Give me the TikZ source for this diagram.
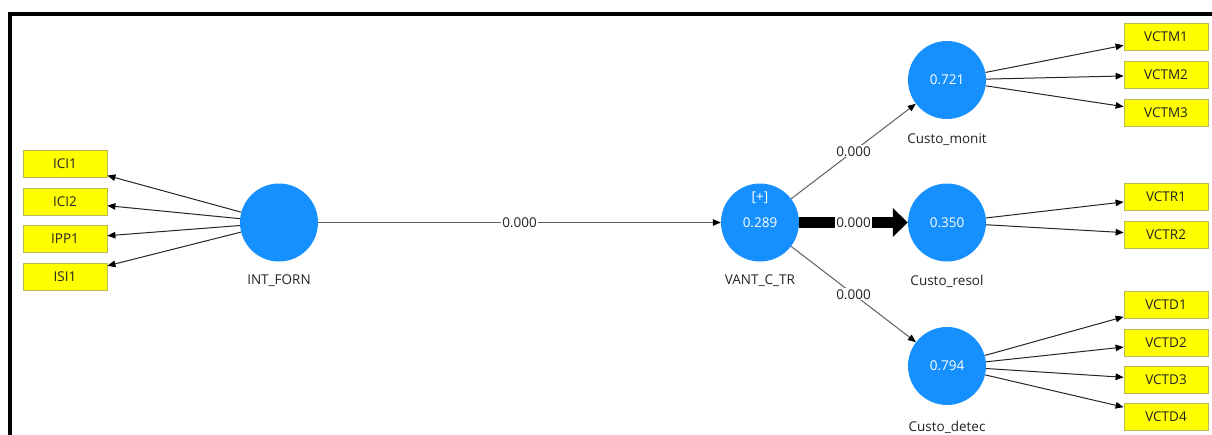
\documentclass[tikz,border=0pt]{standalone}
\usepackage{fontspec}
\setmainfont{Open Sans}
\usetikzlibrary{arrows.meta}
\definecolor{lvblue}{RGB}{22,144,255}
\definecolor{indyellow}{RGB}{255,255,0}
\definecolor{indborder}{RGB}{185,185,80}
\definecolor{pathgray}{RGB}{95,95,95}
\definecolor{txt}{RGB}{35,35,35}
\begin{document}
\begin{tikzpicture}[x=1pt,y=-1pt,
  font=\fontsize{13.5}{16}\selectfont,
  lv/.style={circle, fill=lvblue, minimum size=78pt, inner sep=0pt, text=white},
  ind/.style={rectangle, fill=indyellow, draw=indborder, line width=0.8pt,
    minimum width=84pt, minimum height=27pt, inner sep=0pt, text=txt},
  lvname/.style={text=txt, inner sep=0pt},
  loading/.style={draw=black!85, line width=1pt,
    -{Triangle[length=8pt,width=6.5pt,color=black]}},
  relpath/.style={draw=pathgray, line width=1pt,
    -{Triangle[length=8pt,width=6.5pt,color=black]}},
  strongpath/.style={draw=black, line width=11pt,
    -{Triangle[length=15pt,width=28pt]}},
  coef/.style={fill=white, inner sep=1pt, text=txt}]
\useasboundingbox (0,0) rectangle (1212,434);
\clip (0,0) rectangle (1212,434);

% outer frame
\draw[line width=3.5pt] (10,440) -- (10,14) -- (1220,14);

% latent variables
\node[lv] (forn) at (279,222.5) {};
\node[lv] (vant) at (760,222.5) {0.289};
\node[text=white, inner sep=0pt] (vantplus) at (760,198) {[+]};
\node[lv] (monit) at (947,80) {0.721};
\node[lv] (resol) at (947,222.5) {0.350};
\node[lv] (detec) at (947,366) {0.794};

\node[lvname] (fornname) at (279,281) {INT\_FORN};
\node[lvname] (vantname) at (760,281) {VANT\_C\_TR};
\node[lvname] (monitname) at (947,140) {Custo\_monit};
\node[lvname] (resolname) at (947,281) {Custo\_resol};
\node[lvname] (detecname) at (947,427) {Custo\_detec};

% indicators
\node[ind] (ici1) at (65,164) {ICI1};
\node[ind] (ici2) at (65,201.5) {ICI2};
\node[ind] (ipp1) at (65,239) {IPP1};
\node[ind] (isi1) at (65,276.5) {ISI1};

\node[ind] (vctm1) at (1166,37) {VCTM1};
\node[ind] (vctm2) at (1166,75) {VCTM2};
\node[ind] (vctm3) at (1166,113) {VCTM3};

\node[ind] (vctr1) at (1166,197) {VCTR1};
\node[ind] (vctr2) at (1166,235) {VCTR2};

\node[ind] (vctd1) at (1166,305) {VCTD1};
\node[ind] (vctd2) at (1166,342.5) {VCTD2};
\node[ind] (vctd3) at (1166,380) {VCTD3};
\node[ind] (vctd4) at (1166,417) {VCTD4};

% loadings
\foreach \i in {ici1,ici2,ipp1,isi1} \draw[loading] (forn) -- (\i);
\foreach \i in {vctm1,vctm2,vctm3} \draw[loading] (monit) -- (\i);
\foreach \i in {vctr1,vctr2} \draw[loading] (resol) -- (\i);
\foreach \i in {vctd1,vctd2,vctd3,vctd4} \draw[loading] (detec) -- (\i);

% structural paths
\draw[relpath] (forn) -- node[coef] (c1) {0.000} (vant);
\draw[relpath] (vant) -- node[coef] (c2) {0.000} (monit);
\draw[relpath] (vant) -- node[coef] (c3) {0.000} (detec);
\draw[strongpath] (vant) -- node[coef] (c4) {0.000} (resol);
\end{tikzpicture}
\end{document}
